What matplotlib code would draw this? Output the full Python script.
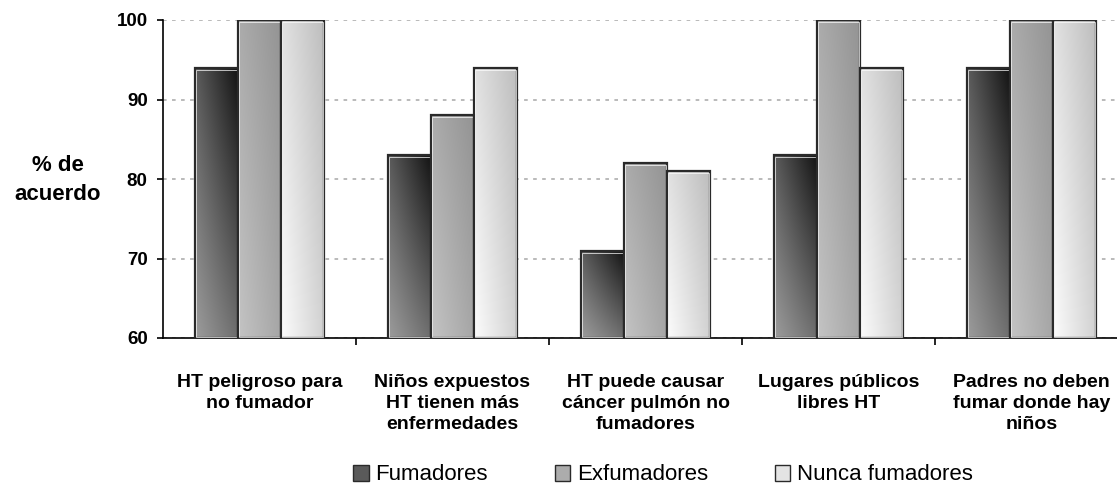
import numpy as np
import matplotlib
matplotlib.use('Agg')
import matplotlib.pyplot as plt
from matplotlib.patches import Patch

plt.rcParams['font.family'] = ['Liberation Sans', 'DejaVu Sans']

categories = ['HT peligroso para\nno fumador',
              'Niños expuestos\nHT tienen más\nenfermedades',
              'HT puede causar\ncáncer pulmón no\nfumadores',
              'Lugares públicos\nlibres HT',
              'Padres no deben\nfumar donde hay\nniños']
series = ['Fumadores', 'Exfumadores', 'Nunca fumadores']
fumadores = [94, 83, 71, 83, 94]
exfumadores = [100, 88, 82, 100, 100]
nunca = [100, 94, 81, 94, 100]
yticks = [60, 70, 80, 90, 100]

# corner colours of the bar fill: top-left, top-right, bottom-left, bottom-right
corners = [('#9c9c9c', '#6e6e6e', '#5c5c5c', '#141414'),
           ('#c4c4c4', '#a6a6a6', '#acacac', '#949494'),
           ('#fcfcfc', '#d2d2d2', '#e2e2e2', '#bebebe')]
flat = ['#5a5a5a', '#acacac', '#e4e4e4']


def hex2rgb(h):
    return np.array([int(h[i:i + 2], 16) / 255 for i in (1, 3, 5)])


def gradient_img(tl, tr, bl, br):
    n = 64
    xx, yy = np.meshgrid(np.linspace(0, 1, n), np.linspace(0, 1, n))
    xx, yy = xx[..., None], yy[..., None]
    tl, tr, bl, br = [hex2rgb(c) for c in (tl, tr, bl, br)]
    top = tl * (1 - xx) + tr * xx
    bot = bl * (1 - xx) + br * xx
    return top * (1 - yy) + bot * yy


fig = plt.figure(figsize=(11.17, 4.87), dpi=100)
ax = fig.add_axes([163 / 1117, 149 / 487, 965 / 1117, 318 / 487])

x = np.arange(len(categories))
w = 0.222
data = [fumadores, exfumadores, nunca]
for i, vals in enumerate(data):
    xs = x + (i - 1) * w
    bars = ax.bar(xs, np.array(vals) - 60, w, bottom=60,
                  facecolor='none', edgecolor='#2a2a2a', linewidth=1.6, zorder=3)
    # thin light inner rim
    ax.bar(xs, np.array(vals) - 60 - 0.35, w - 0.012, bottom=60.1,
           facecolor='none', edgecolor='white', linewidth=0.7, alpha=0.7, zorder=3)
    img = gradient_img(*corners[i])
    for b in bars:
        x0, y0 = b.get_x(), b.get_y()
        im = ax.imshow(img, extent=[x0, x0 + b.get_width(), y0 + b.get_height(), y0],
                       aspect='auto', origin='upper', zorder=2, interpolation='bilinear')
        im.set_clip_path(b)

ax.set_xlim(-0.5, len(categories) - 0.5)
ax.set_ylim(60, 100)
ax.set_yticks(yticks)
ax.set_yticklabels([str(v) for v in yticks], fontsize=13.5, fontweight='bold')
ax.yaxis.grid(True, color='#b4b4b4', linestyle=(0, (2, 3)), linewidth=1.3, zorder=0)
ax.set_axisbelow(True)

ax.set_xticks(x)
ax.set_xticklabels(categories, fontsize=14, fontweight='bold', linespacing=1.32)
ax.set_xticks(np.arange(0.5, len(categories) - 0.5, 1), minor=True)
ax.tick_params(axis='x', which='major', length=0, pad=26)
ax.tick_params(axis='x', which='minor', length=5, width=1.2, direction='out')
ax.tick_params(axis='y', length=4, width=1.2, direction='out', pad=7)

for s in ['top', 'right']:
    ax.spines[s].set_visible(False)
ax.spines['left'].set_linewidth(1.2)
ax.spines['bottom'].set_linewidth(1.2)

ax.set_ylabel('% de\nacuerdo', rotation=0, fontsize=16, fontweight='bold',
              ha='center', va='center', linespacing=1.45)
ax.yaxis.set_label_coords((58 - 163) / 965, (338 - 180) / 318)

handles = [Patch(facecolor=flat[i], edgecolor='#2a2a2a', label=series[i]) for i in range(3)]
fig.legend(handles=handles, loc='center', bbox_to_anchor=(663 / 1117, 1 - 475 / 487),
           ncol=3, frameon=False, fontsize=16, handlelength=0.7, handleheight=0.7,
           columnspacing=3.0, handletextpad=0.3, borderpad=0, borderaxespad=0)

fig.savefig('out.png', dpi=100)
